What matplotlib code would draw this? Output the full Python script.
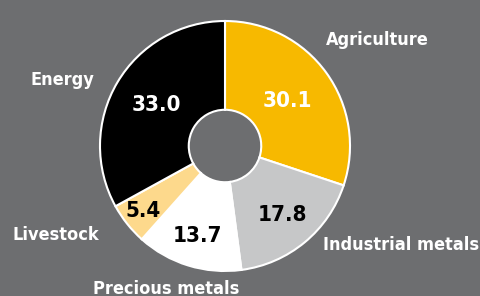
import numpy as np
import matplotlib.pyplot as plt

# Data
labels = ['Agriculture', 'Industrial metals', 'Precious metals', 'Livestock', 'Energy']
values = [30.1, 17.8, 13.7, 5.4, 33.0]
colors = ['#f7b900', '#c6c7c8', '#ffffff', '#fdd98c', '#000000']
value_colors = ['white', 'black', 'black', 'black', 'white']

# layout of texts (in units of outer radius)
value_radius = [0.62, 0.72, 0.75, 0.84, 0.64]
label_pos = [(1.22, 0.85), (1.41, -0.79), (-0.47, -1.14), (-1.35, -0.71), (-1.30, 0.53)]

bg = '#6d6e70'
plt.rcParams['font.family'] = ['DejaVu Sans']

fig = plt.figure(figsize=(4.8, 2.96), dpi=100, facecolor=bg)
ax = fig.add_axes([0, 0, 1, 1])
ax.set_facecolor(bg)

wedges, _ = ax.pie(values, colors=colors, startangle=90, counterclock=False,
                   radius=1.0,
                   wedgeprops=dict(width=0.71, edgecolor='white', linewidth=1.5))

total = sum(values)
cum = np.cumsum([0] + values[:-1])
for i, v in enumerate(values):
    mid = np.deg2rad(90 - (cum[i] + v / 2) / total * 360)
    r = value_radius[i]
    ax.text(r * np.cos(mid), r * np.sin(mid), f'{v:.1f}', ha='center', va='center',
            fontsize=16, fontweight='bold', fontstretch='condensed',
            color=value_colors[i])

for lab, (x, y) in zip(labels, label_pos):
    ax.text(x, y, lab, ha='center', va='center', fontsize=13,
            fontweight='bold', fontstretch='condensed', color='white')

ax.set_xlim(-1.8, 2.04)
ax.set_ylim(-1.2, 1.168)
ax.set_aspect('equal')
ax.axis('off')

fig.savefig('out.png', dpi=100, facecolor=bg)
